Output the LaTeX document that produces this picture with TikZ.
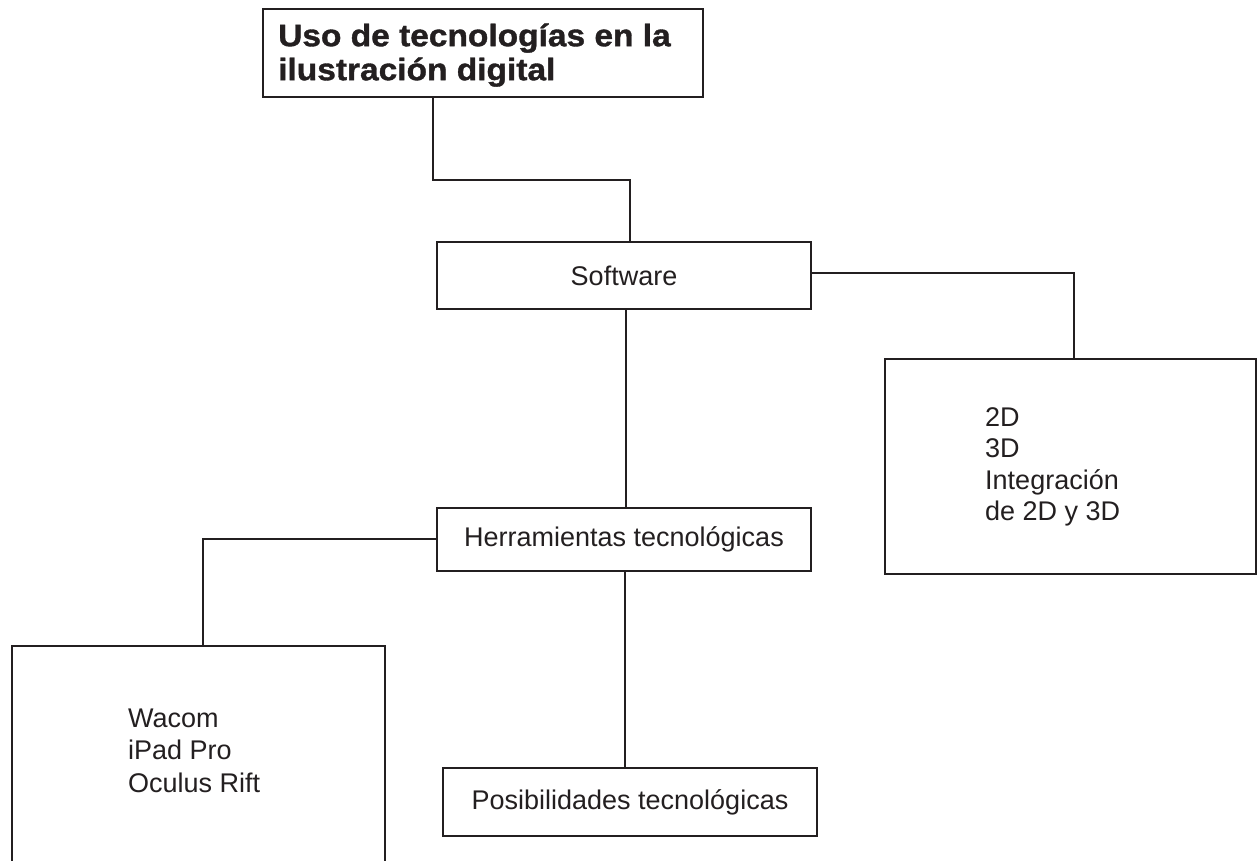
\documentclass[tikz,border=0pt]{standalone}
\usepackage{fontspec}
\setmainfont{Liberation Sans}
\newfontfamily\titlefont[FakeStretch=1.08, FakeBold=1.2]{Liberation Sans Bold}
\definecolor{ink}{HTML}{231F20}
\tikzset{
  boxshape/.style={draw=ink, line width=1.8pt, rectangle, inner sep=0pt},
  bodyfont/.style={font=\fontsize{27}{33}\selectfont, text=ink},
  wire/.style={draw=ink, line width=1.6pt},
  listtext/.style={anchor=north west, inner sep=0pt, align=left, text=ink}
}
\begin{document}
\begin{tikzpicture}[x=1pt,y=-1pt]
  \useasboundingbox (0,0) rectangle (1257,860);
  \clip (0,0) rectangle (1257,860);
  \fill[white] (0,0) rectangle (1257,860);

  % boxes
  \node[boxshape, minimum width=440pt, minimum height=88pt] (title) at (483,53) {};
  \node[boxshape, bodyfont, minimum width=374pt, minimum height=67pt] (software) at (624,275.5) {Software};
  \node[boxshape, bodyfont, minimum width=374pt, minimum height=63pt] (herr) at (624,539.5) {Herramientas tecnológicas};
  \node[boxshape, bodyfont, minimum width=374pt, minimum height=68pt] (posib) at (630,802) {Posibilidades tecnológicas};
  \node[boxshape, minimum width=371pt, minimum height=215pt] (dim) at (1070.5,466.5) {};
  \node[boxshape, minimum width=373pt, minimum height=254pt] (dev) at (198.5,773) {};

  % texts inside boxes
  \node[listtext, font=\titlefont\fontsize{31}{34}\selectfont] (titletext) at (278,22)
    {\rule{0pt}{24pt}Uso de tecnologías en la\\ilustración digital};
  \node[listtext, font=\fontsize{27}{31.5}\selectfont] (dimtext) at (985,407)
    {\rule{0pt}{19pt}2D\\3D\\Integración\\de 2D y 3D};
  \node[listtext, font=\fontsize{27}{32.5}\selectfont] (devtext) at (128,708)
    {\rule{0pt}{19pt}Wacom\\iPad Pro\\Oculus Rift};

  % connectors
  \coordinate (k1) at (433,180);
  \coordinate (k2) at (630,180);
  \draw[wire] (title.south -| k1) -- (k1) -- (k2) -- (k2 |- software.north);

  \coordinate (k3) at (1074,273);
  \draw[wire] (software.east |- k3) -- (k3) -- (k3 |- dim.north);

  \coordinate (k4) at (626,400);
  \draw[wire] (software.south -| k4) -- (herr.north -| k4);

  \coordinate (k5) at (203,539);
  \draw[wire] (herr.west |- k5) -- (k5) -- (k5 |- dev.north);

  \coordinate (k6) at (625,700);
  \draw[wire] (herr.south -| k6) -- (posib.north -| k6);
\end{tikzpicture}
\end{document}
